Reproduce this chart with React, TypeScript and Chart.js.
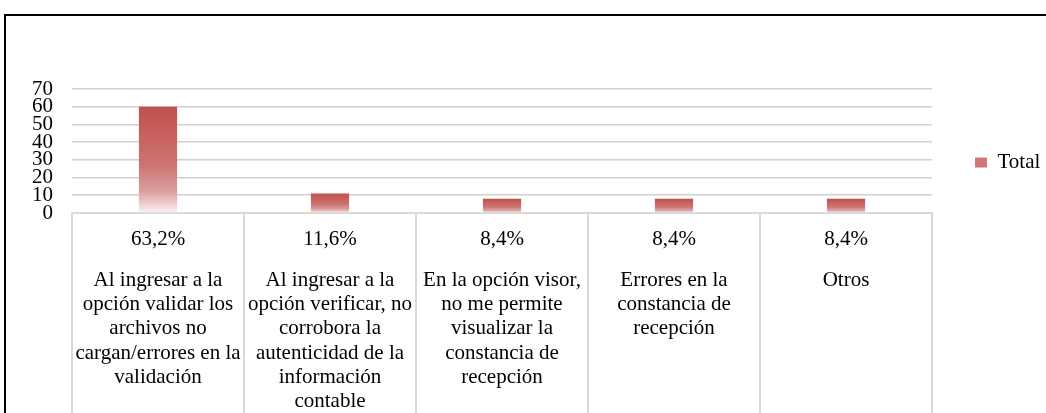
import React, { useEffect, useRef } from 'react';
import Chart from 'chart.js/auto';

// ---- data ----
const categoryLines: string[][] = [
  ['Al ingresar a la', 'opción validar los', 'archivos no', 'cargan/errores en la', 'validación'],
  ['Al ingresar a la', 'opción verificar, no', 'corrobora la', 'autenticidad de la', 'información', 'contable'],
  ['En la opción visor,', 'no me permite', 'visualizar la', 'constancia de', 'recepción'],
  ['Errores en la', 'constancia de', 'recepción'],
  ['Otros'],
];
const categories: string[] = categoryLines.map((l) => l.join(' '));
const percentLabels: string[] = ['63,2%', '11,6%', '8,4%', '8,4%', '8,4%'];
const totals: number[] = [60, 11, 8, 8, 8];
const seriesName = 'Total';
const yMin = 0;
const yMax = 70;
const yStep = 10;

const FONT = "'Liberation Serif', 'Times New Roman', serif";

export default function App() {
  const ref = useRef<HTMLCanvasElement | null>(null);

  useEffect(() => {
    if (!ref.current) return;
    const chart = new Chart(ref.current, {
      type: 'bar',
      data: {
        labels: categories,
        datasets: [
          {
            label: seriesName,
            data: totals,
            xAxisID: 'x',
            yAxisID: 'y',
            categoryPercentage: 1,
            barPercentage: 0.222,
            borderWidth: 0,
            backgroundColor: (c: any) => {
              const ch = c.chart;
              if (!ch.chartArea || c.type !== 'data') return '#c0504d';
              const ys = ch.scales.y;
              const top = ys.getPixelForValue(c.raw);
              const base = ys.getPixelForValue(0);
              const g = ch.ctx.createLinearGradient(0, top, 0, base);
              g.addColorStop(0, '#c0504d');
              g.addColorStop(0.55, '#cd7472');
              g.addColorStop(0.8, '#daa09e');
              g.addColorStop(1, '#fcf3f3');
              return g;
            },
          },
        ],
      },
      options: {
        responsive: false,
        animation: false,
        layout: { padding: { top: 89, left: 0, right: 0, bottom: 0 } },
        plugins: {
          tooltip: { enabled: false },
          legend: {
            position: 'right',
            align: 'start',
            maxWidth: 114,
            title: {
              display: true,
              text: ' ',
              font: { size: 1, lineHeight: 1 },
              padding: { top: 19, bottom: 0 },
            },
            labels: {
              boxWidth: 12,
              boxHeight: 10,
              padding: 43,
              color: '#000',
              font: { family: FONT, size: 21 },
              generateLabels: (ch: any) =>
                Chart.defaults.plugins.legend.labels.generateLabels(ch).map((it: any) => ({
                  ...it,
                  fillStyle: '#cf7775',
                  strokeStyle: '#cf7775',
                  lineWidth: 0,
                })),
            },
          },
        },
        scales: {
          y: {
            min: yMin,
            max: yMax,
            ticks: {
              stepSize: yStep,
              autoSkip: false,
              padding: 19,
              color: '#000',
              font: { family: FONT, size: 21, lineHeight: 1 },
            },
            grid: { color: '#d0d0d0', lineWidth: 1.6, drawTicks: false },
            border: { display: false },
            afterFit: (s: any) => {
              s.width = 72;
            },
          },
          x: {
            type: 'category',
            position: 'bottom',
            weight: 0,
            offset: true,
            grid: {
              offset: true,
              drawOnChartArea: false,
              drawTicks: true,
              tickLength: 200,
              color: '#d9d9d9',
              lineWidth: 2,
            },
            border: { display: true, color: '#d9d9d9', width: 2 },
            ticks: {
              autoSkip: false,
              maxRotation: 0,
              minRotation: 0,
              padding: -186,
              color: '#000',
              font: { family: FONT, size: 21, lineHeight: '24px' },
              callback: (_v: any, i: number) => percentLabels[i],
            },
            afterFit: (s: any) => {
              s.height = 45;
            },
          },
          x2: {
            type: 'category',
            position: 'bottom',
            weight: 1,
            offset: true,
            grid: { display: false },
            border: { display: false },
            ticks: {
              autoSkip: false,
              maxRotation: 0,
              minRotation: 0,
              padding: 2,
              color: '#000',
              font: { family: FONT, size: 21, lineHeight: '24.3px' },
              callback: (_v: any, i: number) => categoryLines[i],
            },
            afterFit: (s: any) => {
              s.height = 155;
            },
          },
        },
      },
    } as any);
    return () => chart.destroy();
  }, []);

  return (
    <div
      style={{
        position: 'absolute',
        left: 0,
        top: 0,
        width: 1046,
        height: 413,
        overflow: 'hidden',
        background: '#fff',
      }}
    >
      <canvas
        ref={ref}
        width={1046}
        height={413}
        style={{ position: 'absolute', left: 0, top: 0, width: 1046, height: 413, display: 'block' }}
      />
      <div
        style={{
          position: 'absolute',
          left: 4,
          top: 14,
          width: 1200,
          height: 600,
          borderLeft: '2px solid #000',
          borderTop: '2px solid #000',
          pointerEvents: 'none',
        }}
      />
    </div>
  );
}
